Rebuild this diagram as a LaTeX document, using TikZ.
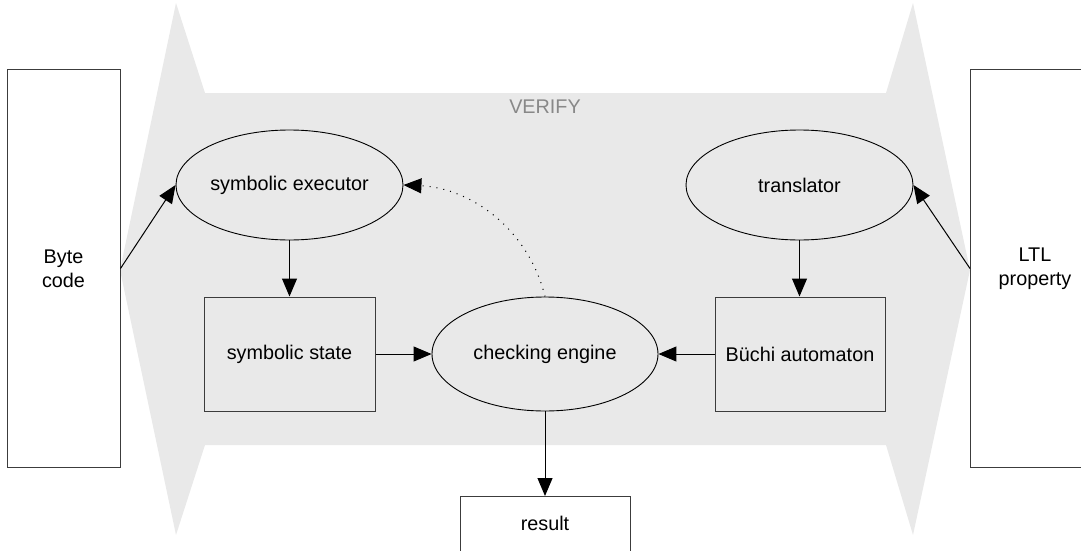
\documentclass[tikz,border=0pt]{standalone}
\usepackage{fontspec}
\setmainfont{Liberation Sans}
\usetikzlibrary{arrows.meta,shapes.geometric}
\definecolor{bandgray}{RGB}{233,233,233}
\definecolor{labelgray}{RGB}{136,136,136}
\definecolor{edgegray}{RGB}{60,60,60}
\begin{document}
\begin{tikzpicture}[x=1pt,y=-1pt,
  every node/.style={font=\fontsize{19.8}{23.6}\selectfont},
  box/.style={draw=edgegray, line width=1pt, rectangle, align=center, inner sep=0pt},
  oval/.style={draw=black, ellipse, line width=0.9pt, inner sep=0pt, minimum width=227, minimum height=110},
  link/.style={-{Triangle[length=18pt,width=15pt]}, line width=1pt},
  hint/.style={-{Triangle[length=18pt,width=15pt]}, line width=1pt, dash pattern=on 1pt off 6pt}
]
\useasboundingbox (0,0) rectangle (1081,551);
\clip (0,0) rectangle (1081,551);
\fill[bandgray] (176,3) -- (205,93) -- (886,93) -- (913,3) -- (970,270) -- (913,535)
  -- (886,445) -- (205,445) -- (176,535) -- (120,270) -- cycle;
\node[text=labelgray] (verify) at (545,107) {VERIFY};
\node[box, minimum width=113, minimum height=397] (byte) at (63.5,268.5) {Byte\\code};
\node[box, minimum width=200, minimum height=397, anchor=west] (ltl) at (970,268.5) {};
\node[align=center] (ltltext) at (1035,268.5) {LTL\\property};
\node[oval] (exec) at (289.5,185) {symbolic executor};
\node[oval] (trans) at (799.5,185) {translator};
\node[box, minimum width=171, minimum height=114] (state) at (289.5,354) {symbolic state};
\node[oval, minimum width=226, minimum height=114] (check) at (545,354) {checking engine};
\node[box, minimum width=170, minimum height=114] (buchi) at (800,354) {Büchi automaton};
\node[box, minimum width=170, minimum height=80, anchor=north] (result) at (545,496) {};
\node (resulttext) at (545,523) {result};
\draw[link] (byte.east) -- (exec.west);
\draw[link] (ltl.west) -- (trans.east);
\draw[link] (exec.south) -- (state.north);
\draw[link] (trans.south) -- (trans.south |- buchi.north);
\draw[link] (state.east) -- (check.west);
\draw[link] (buchi.west) -- (check.east);
\draw[link] (check.south) -- (result.north);
\draw[hint] (check.north) .. controls (528,228) and (470,188) .. (exec.east);
\end{tikzpicture}
\end{document}
